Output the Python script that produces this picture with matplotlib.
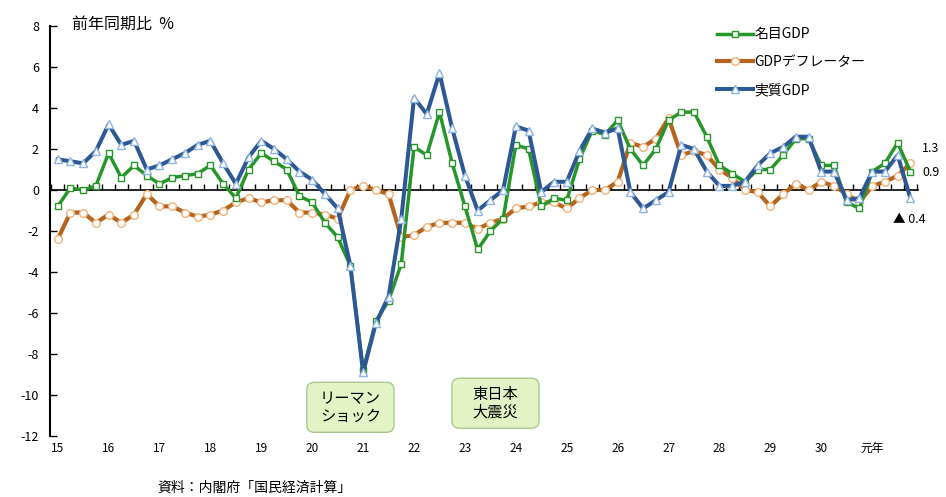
import matplotlib
matplotlib.use('Agg')
import matplotlib.pyplot as plt
from matplotlib.lines import Line2D
from matplotlib.patches import FancyBboxPatch

plt.rcParams['font.family'] = ['Noto Sans CJK JP', 'DejaVu Sans']
plt.rcParams['axes.unicode_minus'] = False

# quarterly, H15 Q1 .. R1 Q4 (year-on-year %)
year_labels = ['15', '16', '17', '18', '19', '20', '21', '22', '23', '24',
               '25', '26', '27', '28', '29', '30', '元年']
nominal = [-0.8, 0.1, 0.0, 0.2, 1.8, 0.6, 1.2, 0.7, 0.3, 0.6, 0.7, 0.8,
           1.2, 0.3, -0.4, 1.0, 1.8, 1.4, 1.0, -0.3, -0.6, -1.6, -2.3, -3.7,
           -8.8, -6.4, -5.4, -3.6, 2.1, 1.7, 3.8, 1.3, -0.8, -2.9, -2.0, -1.4,
           2.2, 2.0, -0.8, -0.4, -0.5, 1.5, 2.9, 2.7, 3.4, 2.0, 1.2, 2.0,
           3.4, 3.8, 3.8, 2.6, 1.2, 0.8, 0.4, 1.0, 1.0, 1.7, 2.5, 2.5,
           1.2, 1.2, -0.6, -0.9, 0.9, 1.3, 2.3, 0.9]
deflator = [-2.4, -1.1, -1.1, -1.6, -1.2, -1.6, -1.2, -0.2, -0.8, -0.8, -1.1, -1.3,
            -1.2, -1.0, -0.6, -0.4, -0.6, -0.5, -0.5, -1.1, -1.1, -1.2, -1.4, 0.0,
            0.2, 0.0, -0.2, -2.3, -2.2, -1.8, -1.6, -1.6, -1.6, -1.9, -1.6, -1.4,
            -0.9, -0.8, -0.6, -0.6, -0.9, -0.4, 0.0, 0.0, 0.4, 2.3, 2.1, 2.5,
            3.5, 1.7, 1.9, 1.7, 1.0, 0.6, 0.0, -0.1, -0.8, -0.2, 0.3, 0.0,
            0.4, 0.2, -0.2, -0.6, 0.2, 0.4, 0.7, 1.3]
real = [1.5, 1.4, 1.3, 1.9, 3.2, 2.2, 2.4, 1.0, 1.2, 1.5, 1.8, 2.2,
        2.4, 1.3, 0.3, 1.6, 2.4, 2.0, 1.5, 0.9, 0.5, -0.2, -0.9, -3.7,
        -8.9, -6.5, -5.2, -1.4, 4.5, 3.7, 5.7, 3.0, 0.7, -1.0, -0.5, 0.0,
        3.1, 2.9, -0.1, 0.4, 0.4, 1.9, 3.0, 2.8, 3.0, -0.1, -0.9, -0.5,
        -0.1, 2.2, 2.0, 0.9, 0.2, 0.2, 0.4, 1.2, 1.8, 2.1, 2.6, 2.6,
        0.9, 0.9, -0.5, -0.4, 0.9, 0.9, 1.7, -0.4]

events = ['リーマン\nショック', '東日本\n大震災']
event_x = [23.0, 34.4]
event_y = [-10.6, -10.4]

x = list(range(len(real)))

fig = plt.figure(figsize=(9.46, 4.97), dpi=100)
ax = fig.add_axes([0.0529, 0.1227, 0.9175, 0.825])

green, orange, blue = '#27962a', '#b5641f', '#2d5894'

ax.plot(x, deflator, color=orange, lw=3.0, marker='o', ms=5.5,
        mfc='white', mec='#f0b27a', mew=1.0, zorder=3)
ax.plot(x, nominal, color=green, lw=2.5, marker='s', ms=5,
        mfc='white', mec=green, mew=1.0, zorder=4)
ax.plot(x, real, color=blue, lw=2.9, marker='^', ms=6,
        mfc='white', mec='#8db4e2', mew=1.0, zorder=5)

ax.set_xlim(-0.6, len(real) - 0.4)
ax.set_ylim(-12, 8)
ax.set_yticks(range(-12, 9, 2))
ax.tick_params(axis='y', direction='in', length=5, width=1, pad=8, labelsize=9)

# zero line with quarter ticks
for s in ['top', 'right']:
    ax.spines[s].set_visible(False)
ax.spines['left'].set_linewidth(1.5)
ax.spines['bottom'].set_position(('data', 0))
ax.spines['bottom'].set_linewidth(1.2)
ax.set_xticks([i + 0.5 for i in range(-1, len(real))])
ax.set_xticklabels([])
ax.tick_params(axis='x', direction='in', length=4, width=1)

sec = ax.secondary_xaxis('bottom')
sec.spines['bottom'].set_visible(False)
sec.set_xticks(range(0, len(real), 4))
sec.set_xticklabels(year_labels)
sec.tick_params(length=0, pad=4, labelsize=8.5)

# legend
handles = [
    Line2D([], [], color=green, lw=2.5, marker='s', ms=5, mfc='white', mec=green),
    Line2D([], [], color=orange, lw=3.0, marker='o', ms=5.5, mfc='white', mec='#f0b27a'),
    Line2D([], [], color=blue, lw=2.9, marker='^', ms=6, mfc='white', mec='#8db4e2'),
]
fig.legend(handles, ['名目GDP', 'GDPデフレーター', '実質GDP'], loc='upper left',
           bbox_to_anchor=(0.745, 0.97), frameon=False, fontsize=10,
           handlelength=2.6, handletextpad=0.05, labelspacing=1.0, numpoints=1)

# end-point labels
ax.annotate(f'{deflator[-1]:.1f}', (x[-1], deflator[-1]), xytext=(8, 11),
            textcoords='offset points', ha='left', va='center', fontsize=9,
            annotation_clip=False)
ax.annotate(f'{nominal[-1]:.1f}', (x[-1], nominal[-1]), xytext=(9, -1),
            textcoords='offset points', ha='left', va='center', fontsize=9,
            annotation_clip=False)
ax.annotate(f'▲ {abs(real[-1]):.1f}', (x[-1], real[-1]), xytext=(-1, -15),
            textcoords='offset points', ha='center', va='center', fontsize=9,
            annotation_clip=False)

# event call-out boxes
bw, bh = 6.85, 2.44
for lab, ex, ey in zip(events, event_x, event_y):
    box = FancyBboxPatch((ex - bw / 2, ey - bh / 2), bw, bh,
                         boxstyle='round,pad=0,rounding_size=0.6',
                         mutation_aspect=0.62, fc='#e4f3c6', ec='#a9c78e',
                         lw=1, zorder=6)
    ax.add_patch(box)
    ax.text(ex, ey, lab, ha='center', va='center', fontsize=11,
            linespacing=1.1, zorder=7)

fig.text(72 / 946, 1 - 24 / 497, '前年同期比  %', ha='left', va='center', fontsize=11.5)
fig.text(157 / 946, 1 - 488 / 497, '資料：内閣府「国民経済計算」', ha='left',
         va='center', fontsize=10)

fig.savefig('out.png', dpi=100)
